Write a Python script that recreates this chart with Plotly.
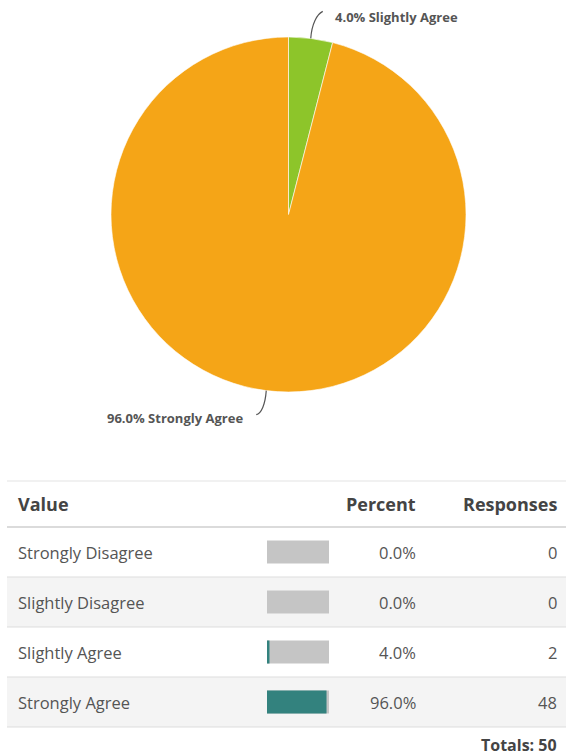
import math
import plotly.graph_objects as go

# ---------------- data ----------------
categories = ["Strongly Disagree", "Slightly Disagree", "Slightly Agree", "Strongly Agree"]
responses = [0, 0, 2, 48]
pie_colors = ["#C8C8C8", "#BBBBBB", "#8DC52A", "#F5A517"]
header_labels = ["Value", "Percent", "Responses"]

total = sum(responses)
percents = [r / total * 100 for r in responses]

W, H = 566, 755
FONT = "Open Sans"


def fx(x):
    return x / W


def fy(y):
    return 1 - y / H


fig = go.Figure()

# ---------------- pie ----------------
cx, cy, R = 288.5, 214.5, 177.5
fig.add_trace(go.Pie(
    labels=categories,
    values=responses,
    sort=False,
    direction="clockwise",
    rotation=0,
    marker=dict(colors=pie_colors, line=dict(color="rgba(255,255,255,0.6)", width=1)),
    textinfo="none",
    hoverinfo="label+percent",
    showlegend=False,
    domain=dict(x=[fx(cx - R), fx(cx + R)], y=[fy(cy + R), fy(cy - R)]),
))

# outside labels with leader lines, computed from data
cum = 0.0
label_specs = {
    # category: (end offset dx, dy, text x, text y, anchor)
    "Slightly Agree": (9, -26, 333, 17, "left"),
    "Strongly Agree": (-7, 23, 245, 418, "right"),
}
for cat, val, pct in zip(categories, responses, percents):
    frac = val / total
    mid = (cum + frac / 2) * 2 * math.pi
    cum += frac
    if cat not in label_specs or val == 0:
        continue
    ex = cx + R * math.sin(mid)
    ey = cy - R * math.cos(mid)
    dx, dy, tx, ty, anchor = label_specs[cat]
    endx, endy = ex + dx, ey + dy
    if dy < 0:
        c1 = (ex + 1, ey + dy * 0.55)
        c2 = (endx - 3, endy + 2)
        finx = endx + 3
        finy = endy - 1
    else:
        c1 = (ex - 1, ey + dy * 0.6)
        c2 = (endx + 2, endy)
        finx = endx - 3
        finy = endy + 1
    path = (f"M {fx(ex)},{fy(ey)} C {fx(c1[0])},{fy(c1[1])} "
            f"{fx(c2[0])},{fy(c2[1])} {fx(finx)},{fy(finy)}")
    fig.add_shape(type="path", path=path, xref="paper", yref="paper",
                  line=dict(color="#555555", width=1.2))
    fig.add_annotation(x=fx(tx), y=fy(ty), xref="paper", yref="paper",
                       text=f"<b>{pct:.1f}% {cat}</b>", showarrow=False,
                       xanchor=anchor, yanchor="middle",
                       font=dict(family=FONT, size=13, color="#555555"))

# ---------------- table ----------------
table_left = 7
header_top, header_bottom = 481, 527
row_h = 50
col_value_x, col_pct_x, col_resp_x = 15.5, 418, 559

# row backgrounds
for i in range(len(categories)):
    top = header_bottom + i * row_h
    if i % 2 == 1:
        fig.add_shape(type="rect", xref="paper", yref="paper",
                      x0=fx(table_left), x1=1, y0=fy(top + row_h), y1=fy(top),
                      fillcolor="#F4F4F4", line=dict(width=0), layer="below")

# separators
fig.add_shape(type="line", xref="paper", yref="paper", x0=fx(table_left), x1=1,
              y0=fy(header_top), y1=fy(header_top), line=dict(color="#E3E3E3", width=1))
fig.add_shape(type="line", xref="paper", yref="paper", x0=fx(table_left), x1=1,
              y0=fy(header_bottom), y1=fy(header_bottom), line=dict(color="#CFCFCF", width=1.5))
for i in range(1, len(categories) + 1):
    yy = header_bottom + i * row_h
    fig.add_shape(type="line", xref="paper", yref="paper", x0=fx(table_left), x1=1,
                  y0=fy(yy), y1=fy(yy), line=dict(color="#DDDDDD", width=1))

# header
hy = (header_top + header_bottom) / 2
for txt, xx, anc in zip(header_labels, [col_value_x, col_pct_x, col_resp_x], ["left", "right", "right"]):
    fig.add_annotation(x=fx(xx), y=fy(hy), xref="paper", yref="paper", text=f"<b>{txt}</b>",
                       showarrow=False, xanchor=anc, yanchor="middle",
                       font=dict(family=FONT, size=18, color="#444444"))

# rows
for i, (cat, pct, resp) in enumerate(zip(categories, percents, responses)):
    ry = header_bottom + i * row_h + row_h / 2
    fig.add_annotation(x=fx(col_value_x), y=fy(ry), xref="paper", yref="paper", text=cat,
                       showarrow=False, xanchor="left", yanchor="middle",
                       font=dict(family=FONT, size=16.5, color="#555555"))
    fig.add_annotation(x=fx(col_pct_x), y=fy(ry), xref="paper", yref="paper", text=f"{pct:.1f}%",
                       showarrow=False, xanchor="right", yanchor="middle",
                       font=dict(family=FONT, size=16.5, color="#555555"))
    fig.add_annotation(x=fx(col_resp_x), y=fy(ry), xref="paper", yref="paper", text=f"{resp}",
                       showarrow=False, xanchor="right", yanchor="middle",
                       font=dict(family=FONT, size=16.5, color="#555555"))

# totals
fig.add_annotation(x=fx(col_resp_x), y=fy(745), xref="paper", yref="paper",
                   text=f"<b>Totals: {total}</b>", showarrow=False, xanchor="right",
                   yanchor="middle", font=dict(family=FONT, size=16, color="#444444"))

# in-table bars
fig.add_trace(go.Bar(y=categories, x=[100] * len(categories), orientation="h",
                     marker=dict(color="#C5C5C5", line=dict(width=0)), width=0.46,
                     xaxis="x", yaxis="y", showlegend=False, hoverinfo="skip"))
fig.add_trace(go.Bar(y=categories, x=percents, orientation="h",
                     marker=dict(color="#33827E", line=dict(width=0)), width=0.46,
                     xaxis="x", yaxis="y", showlegend=False,
                     hovertemplate="%{y}: %{x:.1f}%<extra></extra>"))

fig.update_layout(
    width=W, height=H,
    margin=dict(l=0, r=0, t=0, b=0),
    paper_bgcolor="white", plot_bgcolor="rgba(0,0,0,0)",
    barmode="overlay",
    font=dict(family=FONT),
    xaxis=dict(domain=[fx(267), fx(329)], range=[0, 100], visible=False, fixedrange=True),
    yaxis=dict(domain=[fy(header_bottom + row_h * len(categories)), fy(header_bottom)],
               categoryorder="array", categoryarray=categories,
               range=[len(categories) - 0.5, -0.5], visible=False, fixedrange=True),
)

fig.write_html("out.html", config={"displayModeBar": False},
               post_script="document.body.style.margin='0';document.body.style.overflow='hidden';")
